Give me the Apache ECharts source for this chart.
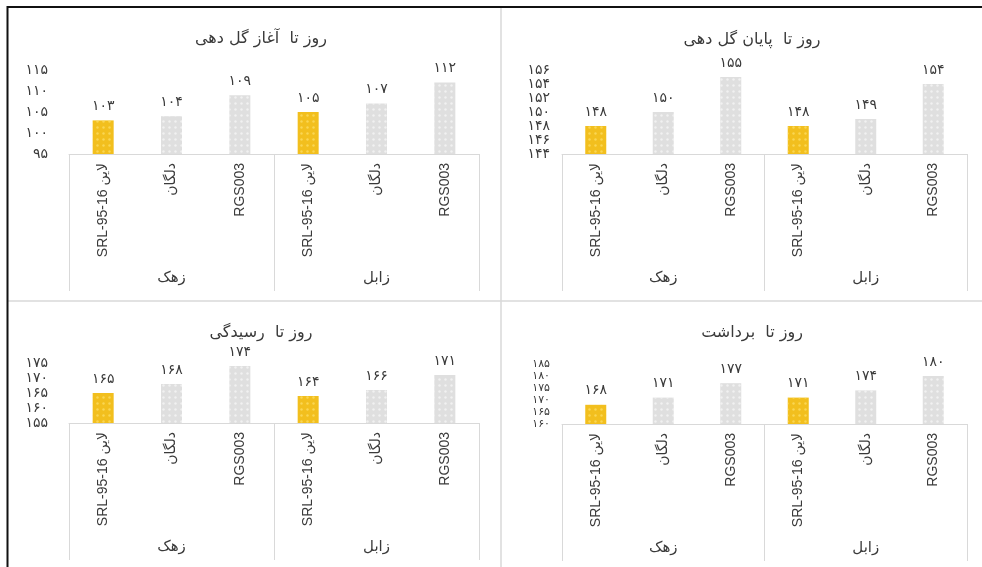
<!DOCTYPE html>
<html><head><meta charset="utf-8">
<script src="https://cdn.jsdelivr.net/npm/echarts@6/dist/echarts.min.js"></script>
<style>html,body{margin:0;padding:0;background:#fff}#c{width:982px;height:567px}</style>
</head><body><div id="c"></div>
<script>
const cultivars = ['SRL-95-16 لاین', 'دلگان', 'RGS003'];
const locations = ['زهک', 'زابل'];
const titles = ['روز تا  آغاز گل دهی', 'روز تا  پایان گل دهی', 'روز تا  رسیدگی', 'روز تا  برداشت'];
const flowerStart = [103, 104, 109, 105, 107, 112];
const flowerEnd = [148, 150, 155, 148, 149, 154];
const maturity = [165, 168, 174, 164, 166, 171];
const harvest = [168, 171, 177, 171, 174, 180];
const yMin = [95, 144, 155, 160];
const yMax = [115, 156, 175, 185];
const yStep = [5, 2, 5, 5];

const seriesValues = [flowerStart, flowerEnd, maturity, harvest];
const catKeys = [];
locations.forEach(l => cultivars.forEach(c => catKeys.push(l + '|' + c)));

const fa = n => String(n).replace(/\d/g, d => '۰۱۲۳۴۵۶۷۸۹'[d]);
const YELLOW = '#F2BF1E', GRAY = '#DFDFDF', TXT = '#3A3A3A';
const FA_FONT = 'DejaVu Sans';

const boxes = [
  {left: 69, right: 503, top: 70, height: 84, tx: 256, ty: 26},
  {left: 562, right: 15, top: 70, height: 84, tx: 747, ty: 27},
  {left: 69, right: 503, top: 363, height: 60, tx: 256, ty: 320},
  {left: 562, right: 15, top: 364, height: 60, tx: 747, ty: 320}
];

const grid = [], xAxis = [], yAxis = [], series = [], title = [];
boxes.forEach((b, i) => {
  grid.push({left: b.left, right: b.right, top: b.top, height: b.height, containLabel: false});
  title.push({text: titles[i], left: b.tx, top: b.ty, textAlign: 'center',
    textStyle: {fontFamily: FA_FONT, fontSize: 16, fontWeight: 'normal', color: TXT}});
  xAxis.push({type: 'category', gridIndex: i, data: catKeys,
    axisLine: {show: true, lineStyle: {color: '#D9D9D9', width: 1}},
    axisTick: {show: false},
    axisLabel: {rotate: 90, interval: 0, margin: 9, fontSize: 14, color: TXT,
      fontFamily: 'Liberation Sans, DejaVu Sans', formatter: v => v.split('|')[1]}
  });
  xAxis.push({type: 'category', gridIndex: i, data: locations, position: 'bottom',
    axisLine: {show: false},
    axisTick: {show: true, interval: 0, length: 137, lineStyle: {color: '#D9D9D9', width: 1}},
    axisLabel: {interval: 0, margin: 117, fontSize: 15, color: TXT, fontFamily: FA_FONT}
  });
  const yFont = i === 3 ? 11 : 14;
  yAxis.push({type: 'value', gridIndex: i, min: yMin[i], max: yMax[i], interval: yStep[i],
    axisLine: {show: false}, axisTick: {show: false}, splitLine: {show: false},
    axisLabel: {margin: i % 2 === 0 ? 21 : 12, fontSize: yFont, lineHeight: yFont, color: TXT, fontFamily: FA_FONT,
      showMinLabel: true, showMaxLabel: true, hideOverlap: false,
      formatter: v => fa(v)}
  });
  series.push({type: 'bar', xAxisIndex: 2 * i, yAxisIndex: i, barWidth: 21,
    data: seriesValues[i].map((v, k) => ({value: v, itemStyle: {
      color: (k % cultivars.length === 0) ? YELLOW : GRAY,
      decal: {symbol: 'circle', symbolSize: 0.8, dashArrayX: 3, dashArrayY: 3,
        color: (k % cultivars.length === 0) ? 'rgba(255,230,120,0.6)' : 'rgba(255,255,255,0.55)'}
    }})),
    label: {show: true, position: 'top', distance: 7, fontSize: 14, color: TXT, fontFamily: FA_FONT,
      formatter: p => fa(p.value)}
  });
});

const chart = echarts.init(document.getElementById('c'), null, {renderer: 'canvas'});
chart.setOption({
  animation: false,
  backgroundColor: '#fff',
  title, grid, xAxis, yAxis, series,
  graphic: [
    {type: 'line', shape: {x1: 501, y1: 8, x2: 501, y2: 567}, style: {stroke: '#D9D9D9', lineWidth: 1.5}},
    {type: 'line', shape: {x1: 8, y1: 301, x2: 982, y2: 301}, style: {stroke: '#D9D9D9', lineWidth: 1.5}},
    {type: 'line', shape: {x1: 7, y1: 7, x2: 982, y2: 7}, style: {stroke: '#111', lineWidth: 2}},
    {type: 'line', shape: {x1: 7.5, y1: 6, x2: 7.5, y2: 567}, style: {stroke: '#111', lineWidth: 2}}
  ]
});
</script></body></html>
